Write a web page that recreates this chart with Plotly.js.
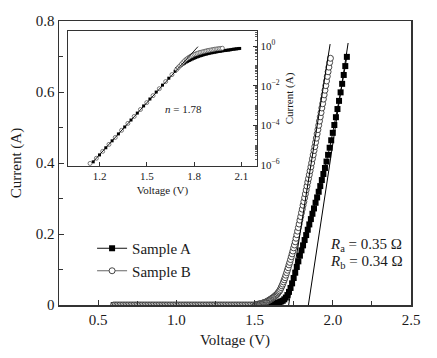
<!DOCTYPE html>
<html>
<head>
<meta charset="utf-8">
<script src="https://cdn.plot.ly/plotly-3.0.1.min.js"></script>
<style>html,body{margin:0;padding:0;background:#fff;}#chart{width:437px;height:358px;}</style>
</head>
<body>
<div id="chart"></div>
<script>
// ---- Main plot data: Sample A (filled squares) ----
var voltageA = [0.60,0.61,0.62,0.63,0.64,0.65,0.66,0.67,0.68,0.69,0.70,0.71,0.72,0.73,0.74,0.75,0.76,0.77,0.78,0.79,
0.80,0.81,0.82,0.83,0.84,0.85,0.86,0.87,0.88,0.89,0.90,0.91,0.92,0.93,0.94,0.95,0.96,0.97,0.98,0.99,
1.00,1.01,1.02,1.03,1.04,1.05,1.06,1.07,1.08,1.09,1.10,1.11,1.12,1.13,1.14,1.15,1.16,1.17,1.18,1.19,
1.20,1.21,1.22,1.23,1.24,1.25,1.26,1.27,1.28,1.29,1.30,1.31,1.32,1.33,1.34,1.35,1.36,1.37,1.38,1.39,
1.40,1.41,1.42,1.43,1.44,1.45,1.46,1.47,1.48,1.49,1.50,1.51,1.52,1.53,1.54,1.55,1.56,1.57,1.58,1.59,
1.60,1.61,1.62,1.63,1.64,1.65,1.66,1.67,1.68,1.69,1.70,1.71,1.72,1.73,1.74,1.75,1.76,1.77,1.78,1.79,
1.80,1.81,1.82,1.83,1.84,1.85,1.86,1.87,1.88,1.89,1.90,1.91,1.92,1.93,1.94,1.95,1.96,1.97,1.98,1.99,
2.00,2.01,2.02,2.03,2.04,2.05,2.06,2.07,2.08,2.09];
var currentA = [0,0,0,0,0,0,0,0,0,0,0,0,0,0,0,0,0,0,0,0,
0,0,0,0,0,0,0,0,0,0,0,0,0,0,0,0,0,0,0,0,
0,0,0,0,0,0,0,0,0,0,0,0,0,0,0,0,0,0,0,0,
0,0,0,0,0,0,0,0,0,0,0,0,0,0,0,0,0,0,0,0,
0,0,0,0,0,0,0,0,0,0,0,0,0,0,0,0,0.001,0.001,0.001,0.002,
0.002,0.002,0.003,0.004,0.005,0.006,0.008,0.010,0.012,0.016,0.021,0.028,0.037,0.048,0.061,0.076,0.091,0.107,0.123,0.139,
0.154,0.168,0.183,0.197,0.212,0.227,0.242,0.257,0.272,0.288,0.303,0.319,0.335,0.352,0.369,0.386,0.404,0.423,0.443,0.464,
0.485,0.507,0.529,0.552,0.575,0.599,0.623,0.648,0.673,0.699];

// ---- Main plot data: Sample B (open circles) ----
var voltageB = [0.60,0.61,0.62,0.63,0.64,0.65,0.66,0.67,0.68,0.69,0.70,0.71,0.72,0.73,0.74,0.75,0.76,0.77,0.78,0.79,
0.80,0.81,0.82,0.83,0.84,0.85,0.86,0.87,0.88,0.89,0.90,0.91,0.92,0.93,0.94,0.95,0.96,0.97,0.98,0.99,
1.00,1.01,1.02,1.03,1.04,1.05,1.06,1.07,1.08,1.09,1.10,1.11,1.12,1.13,1.14,1.15,1.16,1.17,1.18,1.19,
1.20,1.21,1.22,1.23,1.24,1.25,1.26,1.27,1.28,1.29,1.30,1.31,1.32,1.33,1.34,1.35,1.36,1.37,1.38,1.39,
1.40,1.41,1.42,1.43,1.44,1.45,1.46,1.47,1.48,1.49,1.50,
1.505,1.510,1.515,1.520,1.525,1.530,1.535,1.540,1.545,1.550,1.555,1.560,1.565,1.570,1.575,1.580,1.585,1.590,1.595,1.600,
1.605,1.610,1.615,1.620,1.625,1.630,1.635,1.640,1.645,1.650,1.655,1.660,1.665,1.670,1.675,1.680,1.685,1.690,1.695,1.700,
1.705,1.710,1.715,1.720,1.725,1.730,1.735,1.740,1.745,1.750,1.755,1.760,1.765,1.770,1.775,1.780,1.785,1.790,1.795,1.800,
1.805,1.810,1.815,1.820,1.825,1.830,1.835,1.840,1.845,1.850,1.855,1.860,1.865,1.870,1.875,1.880,1.885,1.890,1.895,1.900,
1.905,1.910,1.915,1.920,1.925,1.930,1.935,1.940,1.945,1.950,1.955,1.960,1.965,1.970,1.975,1.980,1.985];
var currentB = [0,0,0,0,0,0,0,0,0,0,0,0,0,0,0,0,0,0,0,0,
0,0,0,0,0,0,0,0,0,0,0,0,0,0,0,0,0,0,0,0,
0,0,0,0,0,0,0,0,0,0,0,0,0,0,0,0,0,0,0,0,
0,0,0,0,0,0,0,0,0,0,0,0,0,0,0,0,0,0,0,0,
0,0,0,0,0,0,0,0,0,0,0,
0.000,0.001,0.001,0.002,0.002,0.003,0.003,0.004,0.004,0.005,0.006,0.006,0.007,0.008,0.009,0.010,0.011,0.013,0.014,0.015,
0.017,0.018,0.020,0.021,0.023,0.025,0.027,0.029,0.031,0.034,0.037,0.040,0.044,0.049,0.054,0.059,0.065,0.071,0.077,0.084,
0.091,0.098,0.105,0.113,0.120,0.128,0.136,0.144,0.152,0.161,0.169,0.178,0.188,0.198,0.208,0.218,0.228,0.239,0.249,0.260,
0.270,0.281,0.291,0.302,0.313,0.324,0.335,0.346,0.356,0.367,0.378,0.389,0.400,0.412,0.423,0.435,0.446,0.458,0.470,0.482,
0.494,0.506,0.518,0.530,0.542,0.555,0.567,0.580,0.592,0.605,0.618,0.631,0.644,0.657,0.670,0.683,0.695];

// ---- Series-resistance fit lines (main plot) ----
var fitVoltageA = [1.844, 2.098];
var fitCurrentA = [0, 0.738];
var fitVoltageB = [1.718, 1.983];
var fitCurrentB = [0, 0.735];

// ---- Inset data (log10 of current, A) ----
var insetVoltageA = [1.16,1.20,1.24,1.28,1.32,1.36,1.40,1.44,1.48,1.52,1.56,1.60,1.64,1.68,
1.69,1.70,1.71,1.72,1.73,1.74,1.75,1.76,1.77,1.78,1.79,1.80,1.81,1.82,1.83,1.84,1.85,1.86,1.87,1.88,1.89,
1.90,1.91,1.92,1.93,1.94,1.95,1.96,1.97,1.98,1.99,2.00,2.01,2.02,2.03,2.04,2.05,2.06,2.07,2.08,2.09];
var insetLogCurrentA = [-5.84,-5.49,-5.13,-4.78,-4.43,-4.08,-3.73,-3.38,-3.02,-2.67,-2.32,-1.97,-1.62,-1.27,
-1.13,-1.07,-1.01,-0.96,-0.91,-0.86,-0.81,-0.77,-0.73,-0.69,-0.65,-0.62,-0.58,-0.55,-0.52,-0.49,-0.47,-0.44,-0.42,-0.40,-0.38,
-0.36,-0.34,-0.33,-0.31,-0.30,-0.28,-0.27,-0.26,-0.24,-0.23,-0.22,-0.21,-0.20,-0.19,-0.17,-0.16,-0.15,-0.14,-0.13,-0.12];
var insetVoltageB = [1.14,1.18,1.22,1.26,1.30,1.34,1.38,1.42,1.46,1.50,1.54,1.58,1.62,1.66,1.69,
1.70,1.71,1.72,1.73,1.74,1.75,1.76,1.77,1.78,1.79,1.80,1.81,1.82,1.83,1.84,1.85,1.86,1.87,1.88,1.89,
1.90,1.91,1.92,1.93,1.94,1.95,1.96,1.97,1.98];
var insetLogCurrentB = [-5.92,-5.66,-5.31,-4.96,-4.61,-4.25,-3.90,-3.55,-3.20,-2.85,-2.50,-2.15,-1.79,-1.44,-1.18,
-1.09,-1.00,-0.91,-0.82,-0.74,-0.67,-0.61,-0.56,-0.51,-0.47,-0.43,-0.40,-0.37,-0.34,-0.32,-0.30,-0.28,-0.26,-0.24,-0.22,
-0.21,-0.19,-0.18,-0.16,-0.15,-0.14,-0.13,-0.12,-0.11];
var insetFitVoltage = [1.152, 1.825];
var insetFitLogCurrent = [-5.90, -0.03];

// tick labels
var mainXTicks = [0.5, 1.0, 1.5, 2.0, 2.5];
var mainYTicks = [0, 0.2, 0.4, 0.6, 0.8];
var mainYTickText = ['0', '0.2', '0.4', '0.6', '0.8'];
var insetXTicks = [1.2, 1.5, 1.8, 2.1];
var insetYTicks = [1, 1e-2, 1e-4, 1e-6];
var insetYTickText = ['10<sup>0</sup>', '10<sup>\u22122</sup>', '10<sup>\u22124</sup>', '10<sup>\u22126</sup>'];

function pow10(arr) { return arr.map(function (v) { return Math.pow(10, v); }); }

var FONT = 'Liberation Serif, Times New Roman, serif';
var INK = '#1a1a1a';
var AX = '#333333';

var traces = [
  { x: voltageA, y: currentA, type: 'scatter', mode: 'lines+markers', name: 'Sample A',
    line: { color: '#111', width: 1 },
    marker: { symbol: 'square', size: 6, color: '#000', line: { width: 0 } }, xaxis: 'x', yaxis: 'y' },
  { x: voltageB, y: currentB, type: 'scatter', mode: 'lines+markers', name: 'Sample B',
    line: { color: '#666', width: 1 },
    marker: { symbol: 'circle', size: 6, color: '#fff', line: { width: 0.9, color: '#333' } }, xaxis: 'x', yaxis: 'y' },
  { x: fitVoltageA, y: fitCurrentA, type: 'scatter', mode: 'lines', showlegend: false,
    line: { color: '#000', width: 1 }, xaxis: 'x', yaxis: 'y' },
  { x: fitVoltageB, y: fitCurrentB, type: 'scatter', mode: 'lines', showlegend: false,
    line: { color: '#000', width: 1 }, xaxis: 'x', yaxis: 'y' },
  { x: insetVoltageA, y: pow10(insetLogCurrentA), type: 'scatter', mode: 'markers', showlegend: false,
    marker: { symbol: 'square', size: 3, color: '#000' }, xaxis: 'x2', yaxis: 'y2' },
  { x: insetVoltageB, y: pow10(insetLogCurrentB), type: 'scatter', mode: 'markers', showlegend: false,
    marker: { symbol: 'circle', size: 4, color: '#fff', line: { width: 0.7, color: '#444' } }, xaxis: 'x2', yaxis: 'y2' },
  { x: insetFitVoltage, y: pow10(insetFitLogCurrent), type: 'scatter', mode: 'lines', showlegend: false,
    line: { color: '#000', width: 0.9 }, xaxis: 'x2', yaxis: 'y2' }
];

var layout = {
  width: 437, height: 358,
  margin: { l: 59, r: 26, t: 21, b: 53 },
  paper_bgcolor: '#fff', plot_bgcolor: '#fff',
  font: { family: FONT, color: INK, size: 15 },
  showlegend: true,
  legend: { x: 0.094, y: 0.257, xanchor: 'left', yanchor: 'top', bgcolor: 'rgba(0,0,0,0)',
    font: { family: FONT, size: 15, color: INK }, itemwidth: 30, tracegroupgap: 0 },
  xaxis: {
    domain: [0, 1], range: [0.25, 2.5], tickmode: 'array', tickvals: mainXTicks, tickformat: '.1f',
    showline: true, linecolor: AX, linewidth: 1.5, mirror: true, ticks: 'inside', ticklen: 5, tickcolor: AX, tickwidth: 1,
    minor: { dtick: 0.25, tick0: 0, ticks: 'inside', ticklen: 4, tickcolor: AX, tickwidth: 1, showgrid: false },
    showgrid: false, zeroline: false, tickfont: { family: FONT, size: 15, color: INK },
    title: { text: 'Voltage (V)', font: { family: FONT, size: 15, color: INK }, standoff: 8 }
  },
  yaxis: {
    domain: [0, 1], range: [0, 0.8], tickmode: 'array', tickvals: mainYTicks, ticktext: mainYTickText,
    showline: true, linecolor: AX, linewidth: 1.5, mirror: true, ticks: 'inside', ticklen: 5, tickcolor: AX, tickwidth: 1,
    minor: { dtick: 0.1, tick0: 0, ticks: 'inside', ticklen: 4, tickcolor: AX, tickwidth: 1, showgrid: false },
    showgrid: false, zeroline: false, tickfont: { family: FONT, size: 15, color: INK },
    title: { text: 'Current (A)', font: { family: FONT, size: 15, color: INK }, standoff: 10 }
  },
  xaxis2: {
    domain: [0.0256, 0.5625], anchor: 'y2', range: [1.0, 2.2], tickmode: 'array', tickvals: insetXTicks, tickformat: '.1f',
    showline: true, linecolor: AX, linewidth: 1.2, mirror: true, ticks: 'inside', ticklen: 4, tickcolor: AX, tickwidth: 1,
    showgrid: false, zeroline: false, tickfont: { family: FONT, size: 11, color: INK },
    title: { text: 'Voltage (V)', font: { family: FONT, size: 11, color: INK }, standoff: 4 }
  },
  yaxis2: {
    domain: [0.4894, 0.9648], anchor: 'x2', side: 'right', type: 'log', range: [-6.05, 0.76],
    tickmode: 'array', tickvals: insetYTicks, ticktext: insetYTickText,
    showline: true, linecolor: AX, linewidth: 1.2, mirror: true, ticks: 'inside', ticklen: 4, tickcolor: AX, tickwidth: 1,
    minor: { dtick: 'D1', ticks: 'inside', ticklen: 2, tickcolor: AX, tickwidth: 0.8, showgrid: false },
    showgrid: false, zeroline: false, tickfont: { family: FONT, size: 11, color: INK },
    title: { text: 'Current (A)', font: { family: FONT, size: 11, color: INK }, standoff: 6 }
  },
  annotations: [
    { xref: 'x', yref: 'y', x: 1.97, y: 0.169, xanchor: 'left', yanchor: 'middle', showarrow: false,
      text: '<i>R</i><sub>a</sub> = 0.35 \u03A9', font: { size: 15, family: FONT, color: INK } },
    { xref: 'x', yref: 'y', x: 1.97, y: 0.121, xanchor: 'left', yanchor: 'middle', showarrow: false,
      text: '<i>R</i><sub>b</sub> = 0.34 \u03A9', font: { size: 15, family: FONT, color: INK } },
    { xref: 'x2', yref: 'y2', x: 1.60, y: -3.18, xanchor: 'left', yanchor: 'middle', showarrow: false,
      text: '<i>n</i> = 1.78', font: { size: 11, family: FONT, color: INK } }
  ]
};

Plotly.newPlot('chart', traces, layout, { staticPlot: true, displayModeBar: false });
</script>
</body>
</html>
